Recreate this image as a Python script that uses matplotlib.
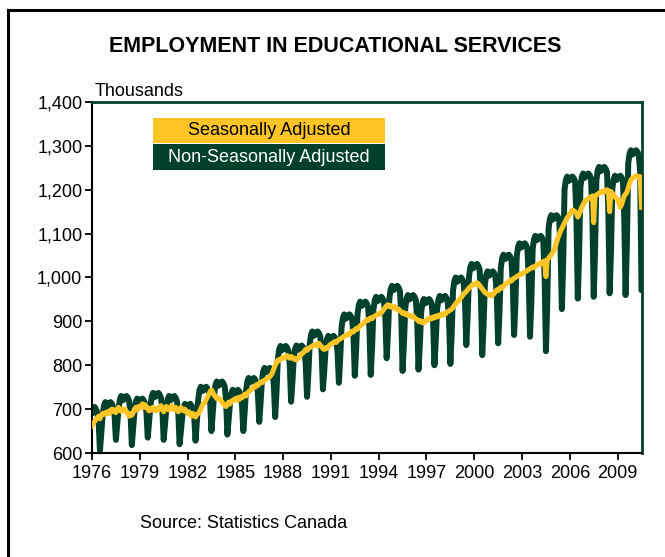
import numpy as np
import matplotlib
matplotlib.use("Agg")
import matplotlib.pyplot as plt
from matplotlib.lines import Line2D
from matplotlib.patches import Rectangle
from matplotlib.ticker import FuncFormatter

plt.rcParams['font.family'] = ['Liberation Sans', 'DejaVu Sans']

# === Data: monthly, Jan 1976 .. Jul 2010 (thousands) ===
first_year = 1976
tick_years = [1976, 1979, 1982, 1985, 1988, 1991, 1994, 1997, 2000, 2003, 2006, 2009]

# seasonally adjusted
sa = [
    662, 668, 672, 676, 680, 684, 678, 686, 690, 688, 692, 690,  # 1976
    694, 690, 696, 700, 694, 698, 692, 700, 704, 698, 695, 700,  # 1977
    696, 700, 694, 688, 684, 690, 686, 692, 700, 704, 698, 706,  # 1978
    702, 708, 712, 704, 710, 706, 700, 696, 702, 698, 704, 700,  # 1979
    696, 702, 698, 704, 708, 700, 694, 700, 706, 702, 698, 704,  # 1980
    708, 702, 698, 704, 700, 694, 698, 704, 700, 696, 700, 694,  # 1981
    690, 694, 688, 684, 690, 686, 682, 688, 690, 694, 700, 708,  # 1982
    712, 716, 722, 728, 734, 740, 744, 738, 732, 728, 724, 726,  # 1983
    724, 720, 716, 712, 708, 706, 710, 716, 712, 718, 720, 722,  # 1984
    724, 720, 726, 722, 728, 726, 730, 734, 730, 736, 740, 742,  # 1985
    744, 748, 752, 750, 756, 754, 758, 762, 760, 764, 766, 768,  # 1986
    770, 772, 774, 778, 784, 792, 800, 806, 812, 810, 814, 816,  # 1987
    818, 816, 820, 822, 818, 816, 820, 818, 814, 816, 812, 816,  # 1988
    818, 822, 826, 828, 832, 836, 834, 838, 840, 842, 844, 846,  # 1989
    846, 848, 844, 850, 846, 842, 838, 836, 840, 838, 842, 846,  # 1990
    848, 850, 852, 854, 852, 856, 858, 860, 862, 864, 866, 868,  # 1991
    868, 872, 870, 874, 878, 876, 880, 884, 882, 886, 890, 892,  # 1992
    894, 898, 900, 904, 902, 906, 908, 906, 910, 912, 914, 916,  # 1993
    918, 916, 920, 924, 928, 932, 936, 938, 934, 936, 932, 930,  # 1994
    934, 930, 926, 928, 924, 922, 918, 920, 916, 918, 914, 912,  # 1995
    914, 910, 912, 908, 906, 904, 900, 902, 898, 900, 896, 900,  # 1996
    902, 906, 904, 908, 906, 910, 908, 912, 910, 914, 912, 916,  # 1997
    914, 918, 916, 920, 922, 924, 926, 928, 932, 936, 940, 944,  # 1998
    946, 950, 954, 958, 962, 966, 968, 972, 976, 978, 982, 984,  # 1999
    986, 984, 988, 986, 982, 978, 974, 970, 966, 964, 962, 960,  # 2000
    962, 958, 960, 964, 968, 972, 970, 974, 978, 976, 980, 984,  # 2001
    986, 988, 990, 994, 992, 996, 998, 1000, 1002, 1004, 1006, 1008,  # 2002
    1008, 1010, 1012, 1014, 1016, 1018, 1020, 1022, 1024, 1022, 1026, 1028,  # 2003
    1030, 1032, 1030, 1034, 1036, 1038, 1002, 1040, 1044, 1048, 1052, 1056,  # 2004
    1062, 1070, 1080, 1090, 1098, 1106, 1112, 1118, 1124, 1130, 1136, 1140,  # 2005
    1144, 1150, 1154, 1152, 1150, 1146, 1138, 1144, 1152, 1160, 1166, 1172,  # 2006
    1176, 1178, 1180, 1182, 1184, 1186, 1125, 1186, 1188, 1190, 1192, 1194,  # 2007
    1196, 1194, 1198, 1196, 1200, 1198, 1150, 1196, 1192, 1188, 1184, 1180,  # 2008
    1178, 1170, 1160, 1166, 1176, 1186, 1190, 1194, 1204, 1214, 1222, 1226,  # 2009
    1228, 1230, 1232, 1230, 1228, 1230, 1160,                                # 2010
]

# non-seasonally adjusted
nsa = [
    690, 698, 705, 700, 692, 670, 605, 644, 686, 708, 716, 706,  # 1976
    708, 714, 716, 712, 704, 686, 630, 665, 700, 722, 730, 720,  # 1977
    722, 728, 730, 726, 718, 691, 618, 655, 694, 716, 724, 714,  # 1978
    716, 722, 724, 720, 712, 693, 635, 671, 707, 729, 737, 727,  # 1979
    729, 735, 737, 733, 725, 700, 630, 665, 700, 722, 730, 720,  # 1980
    722, 728, 730, 726, 718, 692, 620, 652, 682, 704, 712, 702,  # 1981
    704, 710, 712, 708, 700, 683, 628, 671, 721, 743, 751, 741,  # 1982
    743, 749, 751, 747, 739, 716, 650, 690, 733, 755, 763, 753,  # 1983
    755, 761, 763, 759, 751, 721, 642, 678, 714, 736, 744, 734,  # 1984
    736, 742, 744, 740, 732, 711, 650, 692, 741, 763, 771, 761,  # 1985
    763, 769, 771, 767, 759, 736, 671, 714, 764, 786, 794, 784,  # 1986
    786, 792, 794, 790, 782, 755, 682, 739, 814, 836, 844, 834,  # 1987
    836, 842, 844, 840, 832, 800, 717, 762, 815, 837, 845, 835,  # 1988
    837, 843, 845, 841, 833, 804, 728, 780, 847, 869, 877, 867,  # 1989
    869, 875, 877, 873, 865, 831, 745, 788, 837, 859, 867, 857,  # 1990
    859, 865, 867, 863, 855, 830, 760, 815, 886, 908, 916, 906,  # 1991
    908, 914, 916, 912, 904, 867, 776, 835, 915, 937, 945, 935,  # 1992
    937, 943, 945, 941, 933, 886, 778, 840, 926, 948, 956, 946,  # 1993
    948, 954, 956, 952, 944, 907, 816, 874, 951, 973, 981, 971,  # 1994
    973, 979, 981, 977, 969, 913, 787, 848, 930, 952, 960, 950,  # 1995
    952, 958, 960, 956, 948, 901, 790, 846, 921, 943, 951, 941,  # 1996
    943, 949, 951, 947, 939, 898, 800, 855, 928, 950, 958, 948,  # 1997
    950, 956, 958, 954, 946, 904, 803, 872, 970, 992, 1000, 990,  # 1998
    992, 998, 1000, 996, 988, 946, 846, 911, 1001, 1023, 1031, 1021,  # 1999
    1023, 1029, 1031, 1027, 1019, 959, 823, 890, 984, 1006, 1014, 1004,  # 2000
    1006, 1012, 1014, 1010, 1002, 957, 850, 921, 1022, 1044, 1052, 1042,  # 2001
    1044, 1050, 1052, 1048, 1040, 988, 869, 942, 1048, 1070, 1078, 1068,  # 2002
    1070, 1076, 1078, 1074, 1066, 1003, 865, 945, 1065, 1087, 1095, 1085,  # 2003
    1087, 1093, 1095, 1091, 1083, 1003, 832, 941, 1112, 1134, 1142, 1132,  # 2004
    1134, 1140, 1142, 1138, 1130, 1067, 928, 1034, 1200, 1222, 1230, 1220,  # 2005
    1222, 1228, 1230, 1226, 1218, 1133, 952, 1052, 1207, 1229, 1237, 1227,  # 2006
    1229, 1235, 1237, 1233, 1225, 1139, 956, 1060, 1222, 1244, 1252, 1242,  # 2007
    1244, 1250, 1252, 1248, 1240, 1152, 964, 1058, 1202, 1224, 1232, 1222,  # 2008
    1224, 1230, 1232, 1228, 1220, 1137, 960, 1076, 1260, 1282, 1290, 1280,  # 2009
    1282, 1288, 1290, 1286, 1278, 1240, 971,                                 # 2010
]

green = '#00402C'
gold = '#FFC526'

fig = plt.figure(figsize=(6.65, 5.57), dpi=100)
ax = fig.add_axes([92 / 665, 1 - 453 / 557, (641.5 - 92) / 665, (453 - 102) / 557])

x = np.arange(len(nsa))
ax.plot(x, nsa, color=green, lw=4.3, solid_joinstyle='round', solid_capstyle='round', zorder=2)
ax.plot(np.arange(len(sa)), sa, color=gold, lw=3.6, solid_joinstyle='round', zorder=3)

ax.set_xlim(0, len(nsa) - 1)
ax.set_ylim(600, 1400)
ax.set_yticks(range(600, 1401, 100))
ax.yaxis.set_major_formatter(FuncFormatter(lambda v, p: f"{int(v):,}"))
ax.set_xticks([(y - first_year) * 12 for y in tick_years])
ax.set_xticklabels([str(y) for y in tick_years])
ax.tick_params(axis='both', direction='out', length=5, width=1.3, labelsize=13, colors='black')
ax.tick_params(axis='y', pad=2)
ax.tick_params(axis='x', pad=4)

for s in ['left', 'bottom']:
    ax.spines[s].set_color('black')
    ax.spines[s].set_linewidth(1.5)
for s in ['top', 'right']:
    ax.spines[s].set_color(green)
    ax.spines[s].set_linewidth(2)

# legend as two coloured boxes
ax_l = 153 / 665
ax_w = (385 - 153) / 665
fig.add_artist(Rectangle((ax_l, 1 - 143 / 557), ax_w, 25 / 557, transform=fig.transFigure,
                         facecolor=gold, edgecolor='none'))
fig.add_artist(Rectangle((ax_l, 1 - 170 / 557), ax_w, 26 / 557, transform=fig.transFigure,
                         facecolor=green, edgecolor='none'))
fig.text(ax_l + ax_w / 2, 1 - 130.5 / 557, "Seasonally Adjusted", ha='center', va='center',
         fontsize=13, color='black')
fig.text(ax_l + ax_w / 2, 1 - 157 / 557, "Non-Seasonally Adjusted", ha='center', va='center',
         fontsize=13, color='white')

fig.text(335 / 665, 1 - 46 / 557, "EMPLOYMENT IN EDUCATIONAL SERVICES", ha='center', va='center',
         fontsize=15.5, fontweight='bold')
fig.text(95 / 665, 1 - 91 / 557, "Thousands", ha='left', va='center', fontsize=13)
fig.text(140 / 665, 1 - 523 / 557, "Source: Statistics Canada", ha='left', va='center', fontsize=13)

# outer frame (left and top edges)
fig.add_artist(Line2D([8 / 665, 8 / 665], [0, 1 - 10 / 557], transform=fig.transFigure,
                      color='black', lw=2.2))
fig.add_artist(Line2D([8 / 665, 1], [1 - 10 / 557, 1 - 10 / 557], transform=fig.transFigure,
                      color='black', lw=2.2))

plt.savefig("out.png", dpi=100)
